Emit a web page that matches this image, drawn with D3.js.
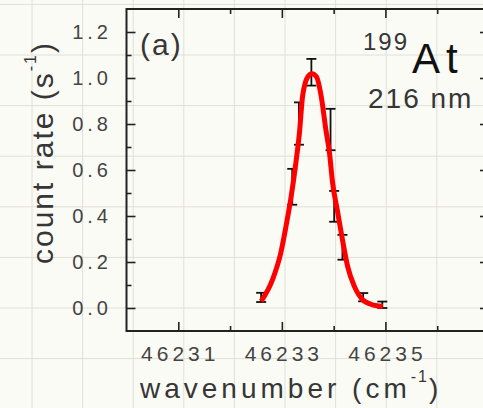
<!DOCTYPE html>
<html>
<head>
<meta charset="utf-8">
<script src="https://cdn.jsdelivr.net/npm/d3@7"></script>
<style>
  html, body { margin: 0; padding: 0; background: #fbfbf6; }
  svg { display: block; font-family: "Liberation Sans", Arial, sans-serif; }
</style>
</head>
<body>
<svg id="chart" width="483" height="408"></svg>
<script>
// measured points with error bars
const wavenumber = [46232.60, 46233.20, 46233.33, 46233.57, 46233.94, 46234.01, 46234.17, 46234.57, 46234.94];
const countRate  = [0.046, 0.527, 0.802, 1.025, 0.776, 0.442, 0.264, 0.047, 0.014];
const countErr   = [0.020, 0.078, 0.092, 0.058, 0.090, 0.067, 0.054, 0.018, 0.014];

// red fit curve
const fitX = [46232.60, 46232.82, 46232.98, 46233.08, 46233.18, 46233.27, 46233.34, 46233.40, 46233.50,
              46233.58, 46233.67, 46233.76, 46233.85, 46233.92, 46233.98, 46234.08, 46234.17, 46234.27,
              46234.40, 46234.56, 46234.75, 46234.95];
const fitY = [0.029, 0.123, 0.240, 0.355, 0.485, 0.630, 0.762, 0.920, 1.005,
              1.019, 1.005, 0.920, 0.775, 0.674, 0.544, 0.414, 0.297, 0.181,
              0.094, 0.036, 0.014, 0.007];

const xMajor = [46231, 46233, 46235, 46237];
const xMinor = [46232, 46234, 46236];
const xTickLabels = [46231, 46233, 46235];
const yMajor = [0, 0.2, 0.4, 0.6, 0.8, 1.0, 1.2];
const yMinor = [0.1, 0.3, 0.5, 0.7, 0.9, 1.1];

const svg = d3.select("#chart");
const W = 483, H = 408;

const x = d3.scaleLinear().domain([46230, 46237]).range([126.5, 489]);
const y = d3.scaleLinear().domain([-0.1, 1.3]).range([331, 9]);

// graph paper background
svg.append("rect").attr("width", W).attr("height", H).attr("fill", "#fbfbf6");
const grid = svg.append("g").attr("stroke", "#e0e0d8").attr("stroke-width", 1);
d3.range(32, W + 10, 50.6).forEach(gx => {
  grid.append("line").attr("x1", gx).attr("x2", gx).attr("y1", 0).attr("y2", H);
});
d3.range(4.4, H + 10, 50.6).forEach(gy => {
  grid.append("line").attr("y1", gy).attr("y2", gy).attr("x1", 0).attr("x2", W);
});

// inward ticks on all four sides
function ticks(axisFn, scale, values, size, transform) {
  const g = svg.append("g")
    .attr("transform", transform)
    .call(axisFn(scale).tickValues(values).tickSize(-size).tickFormat(""));
  g.select(".domain").remove();
  g.selectAll(".tick line").attr("stroke", "#222").attr("stroke-width", 1.6);
  return g;
}
ticks(d3.axisBottom, x, xMajor, 9, `translate(0,${y.range()[0]})`);
ticks(d3.axisBottom, x, xMinor, 5, `translate(0,${y.range()[0]})`);
ticks(d3.axisTop, x, xMajor, 9, `translate(0,${y.range()[1]})`);
ticks(d3.axisTop, x, xMinor, 5, `translate(0,${y.range()[1]})`);
ticks(d3.axisLeft, y, yMajor, 9, `translate(${x.range()[0]},0)`);
ticks(d3.axisLeft, y, yMinor, 5, `translate(${x.range()[0]},0)`);
ticks(d3.axisRight, y, yMajor, 9, `translate(${x.range()[1]},0)`);
ticks(d3.axisRight, y, yMinor, 5, `translate(${x.range()[1]},0)`);

// frame
svg.append("rect")
  .attr("x", x.range()[0]).attr("y", y.range()[1])
  .attr("width", x.range()[1] - x.range()[0])
  .attr("height", y.range()[0] - y.range()[1])
  .attr("fill", "none").attr("stroke", "#222").attr("stroke-width", 2);

// tick labels
svg.append("g").selectAll("text").data(xTickLabels).join("text")
  .attr("x", d => x(d) + 2)
  .attr("y", 361)
  .attr("text-anchor", "middle")
  .style("font-size", "21px")
  .style("letter-spacing", "4px")
  .attr("fill", "#444")
  .text(d => d);

svg.append("g").selectAll("text").data(yMajor).join("text")
  .attr("x", 112)
  .attr("y", d => y(d) + 7)
  .attr("text-anchor", "end")
  .style("font-size", "20px")
  .style("letter-spacing", "4px")
  .attr("fill", "#444")
  .text(d => d.toFixed(1));

// axis titles
const xt = svg.append("text")
  .attr("x", 140).attr("y", 398)
  .style("font-size", "28px")
  .style("letter-spacing", "4px")
  .attr("fill", "#363636");
xt.append("tspan").text("wavenumber (cm");
xt.append("tspan").attr("dy", -16).style("font-size", "16px").style("letter-spacing", "2px").text("-1");
xt.append("tspan").attr("dy", 16).text(")");

const yt = svg.append("text")
  .attr("transform", "translate(53,264) rotate(-90)")
  .style("font-size", "30px")
  .style("letter-spacing", "2px")
  .attr("fill", "#363636");
yt.append("tspan").text("count rate (s");
yt.append("tspan").attr("dy", -17).style("font-size", "16px").text("-1");
yt.append("tspan").attr("dy", 17).text(")");

// error bars
const eb = svg.append("g").attr("stroke", "#111").attr("stroke-width", 1.8);
wavenumber.forEach((w, i) => {
  const cx = x(w);
  const top = y(countRate[i] + countErr[i]);
  const bot = y(countRate[i] - countErr[i]);
  eb.append("line").attr("x1", cx).attr("x2", cx).attr("y1", top).attr("y2", bot);
  eb.append("line").attr("x1", cx - 5).attr("x2", cx + 5).attr("y1", top).attr("y2", top);
  eb.append("line").attr("x1", cx - 5).attr("x2", cx + 5).attr("y1", bot).attr("y2", bot);
});

// fit curve
const line = d3.line()
  .x((d, i) => x(fitX[i]))
  .y(d => y(d))
  .curve(d3.curveMonotoneX);
svg.append("path")
  .attr("d", line(fitY))
  .attr("fill", "none")
  .attr("stroke", "#ff0000")
  .attr("stroke-width", 5)
  .attr("stroke-linejoin", "round");

// annotations
svg.append("text").attr("x", 140).attr("y", 55)
  .style("font-size", "30px").style("letter-spacing", "2px")
  .attr("fill", "#363636").text("(a)");
svg.append("text").attr("x", 363).attr("y", 50)
  .style("font-size", "24px").style("letter-spacing", "2px")
  .attr("fill", "#363636").text("199");
svg.append("text").attr("x", 412).attr("y", 73)
  .style("font-size", "42px").style("letter-spacing", "6px")
  .attr("fill", "#111").text("At");
svg.append("text").attr("x", 368).attr("y", 108)
  .style("font-size", "28px").style("letter-spacing", "2px")
  .attr("fill", "#363636").text("216 nm");
</script>
</body>
</html>
